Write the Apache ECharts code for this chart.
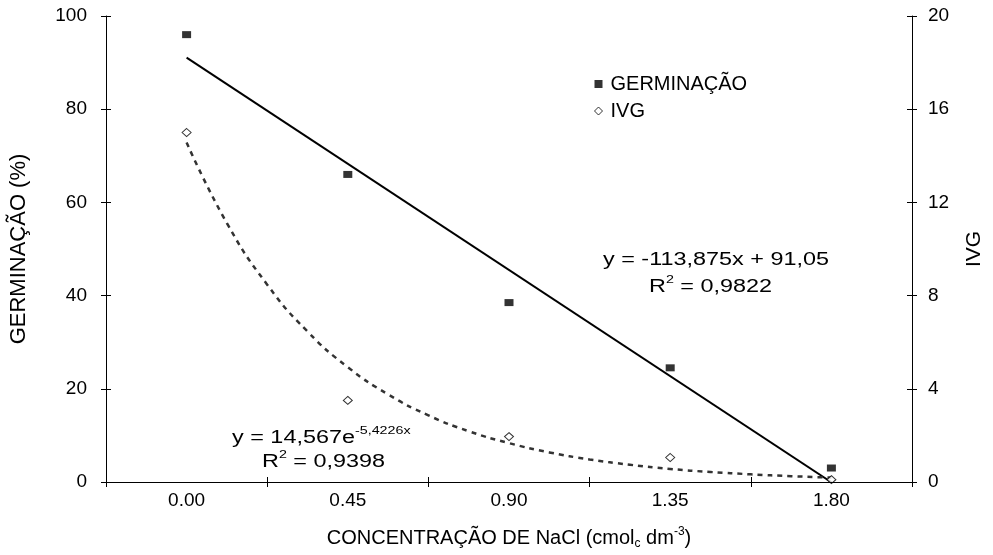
<!DOCTYPE html>
<html>
<head>
<meta charset="utf-8">
<script src="https://cdn.jsdelivr.net/npm/echarts@6/dist/echarts.min.js"></script>
<style>
html,body{margin:0;padding:0;background:#fff;}
#chart{width:993px;height:555px;}
</style>
</head>
<body>
<div id="chart"></div>
<script>
// ---- data ----
const categories = ['0.00', '0.45', '0.90', '1.35', '1.80'];
const germinacao = [96, 66, 38.5, 24.5, 3];
const ivg = [15.0, 3.5, 1.95, 1.05, 0.1];
// linear trend: endpoints at 0.00 and 1.80
const germTrendX = [0, 1.8];
const germTrendY = [91.05, -0.05];
// exponential trend curve read along its course
const ivgTrendX = [0, 0.1125, 0.225, 0.3375, 0.45, 0.5625, 0.675, 0.7875, 0.9, 1.0125, 1.125, 1.2375, 1.35, 1.4625, 1.575, 1.6875, 1.8];
const ivgTrendY = [14.57, 11.11, 8.47, 6.46, 4.93, 3.76, 2.86, 2.18, 1.67, 1.27, 0.97, 0.74, 0.56, 0.43, 0.33, 0.25, 0.19];

const FONT = 'Liberation Sans, Arial, sans-serif';
const chart = echarts.init(document.getElementById('chart'));
function axisLine() { return {show: true, onZero: false, lineStyle: {color: '#000', width: 1, opacity: 1}}; }
function txt(m) { return {show: true, margin: m, color: '#000', fontFamily: FONT, fontSize: 19}; }
const SX = 1.3;

function annot(x, y, text) {
  return {
    type: 'text', x: x, y: y, scaleX: SX, originX: 0, originY: 0,
    style: {
      text: text, x: 0, y: 0, fill: '#000', verticalAlign: 'middle', align: 'left',
      rich: {
        a: {fontFamily: FONT, fontSize: 18, fill: '#000', lineHeight: 22, verticalAlign: 'bottom'},
        sup: {fontFamily: FONT, fontSize: 11, fill: '#000', lineHeight: 22, verticalAlign: 'top', padding: [0, 0, 9, 0]}
      }
    }
  };
}

const option = {
  backgroundColor: '#fff',
  animation: false,
  grid: {left: 103, right: 72, top: 16, bottom: 72},
  legend: {
    orient: 'vertical', left: 589, top: 69, itemGap: 7,
    itemWidth: 8, itemHeight: 8,
    textStyle: {color: '#000', fontFamily: FONT, fontSize: 20, padding: [0, 0, 0, 3]},
    data: [
      {name: 'GERMINAÇÃO', icon: 'rect', itemStyle: {color: '#000', borderWidth: 0}},
      {name: 'IVG', icon: 'diamond', itemStyle: {color: '#fff', borderColor: '#000', borderWidth: 1}}
    ]
  },
  xAxis: [
    {
      type: 'category', data: categories, position: 'bottom', boundaryGap: true, z: 10,
      axisLine: axisLine(),
      axisTick: {show: true, length: 5, lineStyle: {color: '#000'}},
      axisLabel: txt(9),
      splitLine: {show: false},
      name: '{a|CONCENTRAÇÃO DE NaCl (cmol}{sub|c}{a| dm}{sup|-3}{a|)}',
      nameLocation: 'middle', nameGap: 44,
      nameTextStyle: {
        color: '#000', fontFamily: FONT, fontSize: 20,
        rich: {
          a: {fontFamily: FONT, fontSize: 20, color: '#000', lineHeight: 24},
          sub: {fontFamily: FONT, fontSize: 12, color: '#000', lineHeight: 24, verticalAlign: 'bottom', padding: [8, 0, 0, 0]},
          sup: {fontFamily: FONT, fontSize: 12, color: '#000', lineHeight: 24, verticalAlign: 'top', padding: [0, 0, 10, 0]}
        }
      }
    },
    {
      type: 'category', data: categories, position: 'bottom', boundaryGap: true,
      axisLine: {show: false, onZero: false}, axisLabel: {show: false}, splitLine: {show: false},
      axisTick: {show: true, inside: true, length: 5, lineStyle: {color: '#000'}}
    },
    {
      type: 'value', show: false, min: -0.225, max: 2.025, position: 'bottom',
      axisLine: {show: false, onZero: false}
    }
  ],
  yAxis: [
    {
      type: 'value', min: 0, max: 100, interval: 20, position: 'left', z: 10,
      axisLine: axisLine(),
      axisTick: {show: true, length: 5, lineStyle: {color: '#000'}},
      axisLabel: txt(19),
      splitLine: {show: false},
      name: 'GERMINAÇÃO (%)', nameLocation: 'middle', nameGap: 76, nameRotate: 90,
      nameTextStyle: {color: '#000', fontFamily: FONT, fontSize: 22}
    },
    {
      type: 'value', min: 0, max: 20, interval: 4, position: 'right', z: 10,
      axisLine: axisLine(),
      axisTick: {show: true, length: 5, lineStyle: {color: '#000'}},
      axisLabel: txt(16),
      splitLine: {show: false},
      name: 'IVG', nameLocation: 'middle', nameGap: 52, nameRotate: 90,
      nameTextStyle: {color: '#000', fontFamily: FONT, fontSize: 21}
    },
    {
      type: 'value', min: 0, max: 100, interval: 20, position: 'left',
      axisLine: {show: false, onZero: false}, axisLabel: {show: false}, splitLine: {show: false},
      axisTick: {show: true, inside: true, length: 5, lineStyle: {color: '#000'}}
    },
    {
      type: 'value', min: 0, max: 20, interval: 4, position: 'right',
      axisLine: {show: false, onZero: false}, axisLabel: {show: false}, splitLine: {show: false},
      axisTick: {show: true, inside: true, length: 5, lineStyle: {color: '#000'}}
    }
  ],
  series: [
    {
      name: 'GERMINAÇÃO trend', type: 'line', xAxisIndex: 2, yAxisIndex: 0,
      data: germTrendX.map((x, i) => [x, germTrendY[i]]),
      symbol: 'none', lineStyle: {color: '#000', width: 2}, z: 2, silent: true
    },
    {
      name: 'IVG trend', type: 'line', xAxisIndex: 2, yAxisIndex: 1, smooth: true,
      data: ivgTrendX.map((x, i) => [x, ivgTrendY[i]]),
      symbol: 'none', lineStyle: {color: '#333', width: 2.5, type: [5, 5]}, z: 2, silent: true
    },
    {
      name: 'GERMINAÇÃO', type: 'scatter', xAxisIndex: 0, yAxisIndex: 0,
      data: germinacao, symbol: 'rect', symbolSize: [9, 7],
      itemStyle: {color: '#000'}, z: 5
    },
    {
      name: 'IVG', type: 'scatter', xAxisIndex: 0, yAxisIndex: 1,
      data: ivg, symbol: 'diamond', symbolSize: [9, 8],
      itemStyle: {color: '#fff', borderColor: '#000', borderWidth: 1}, z: 5
    }
  ],
  graphic: [
    annot(603, 258, '{a|y = -113,875x + 91,05}'),
    annot(649, 285, '{a|R}{sup|2}{a| = 0,9822}'),
    annot(232, 436, '{a|y = 14,567e}{sup|-5,4226x}'),
    annot(262, 460, '{a|R}{sup|2}{a| = 0,9398}')
  ]
};
chart.setOption(option);
</script>
</body>
</html>
